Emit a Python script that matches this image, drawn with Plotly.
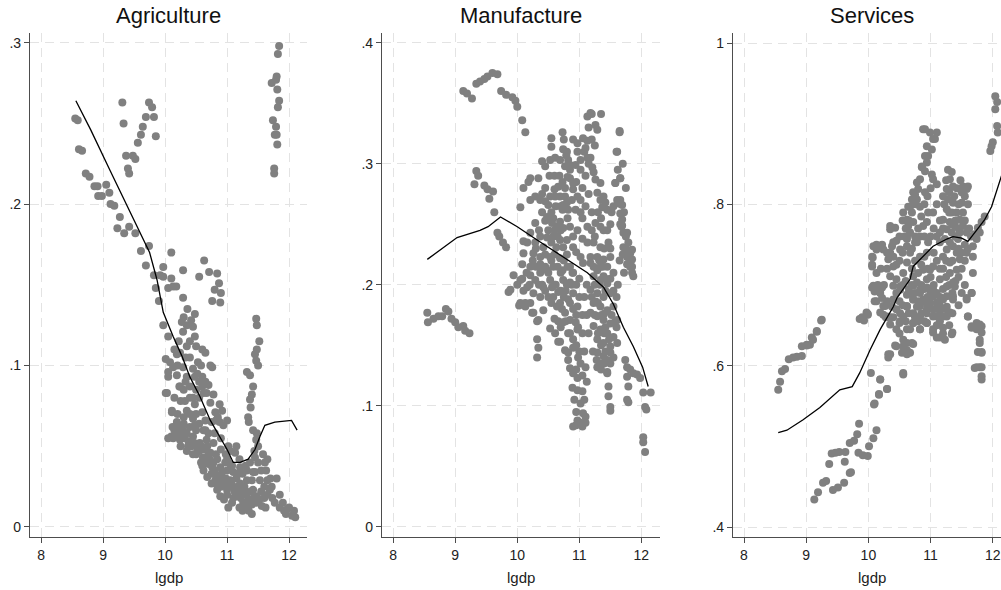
import plotly.graph_objects as go

# ---------------- data ----------------
panel_titles = ["Agriculture", "Manufacture", "Services"]
x_label = "lgdp"
x_ticks = [8, 9, 10, 11, 12]
agri_yticks = [0, 0.1, 0.2, 0.3]
agri_yticktext = ["0", ".1", ".2", ".3"]
manu_yticks = [0, 0.1, 0.2, 0.3, 0.4]
manu_yticktext = ["0", ".1", ".2", ".3", ".4"]
serv_yticks = [0.4, 0.6, 0.8, 1.0]
serv_yticktext = [".4", ".6", ".8", "1"]

agri_points = [
    (8.55,0.253),(8.59,0.252),(8.61,0.234),(8.66,0.233),(8.72,0.219),(8.78,0.217),(8.86,0.211),(8.91,0.211),
    (8.92,0.205),(8.98,0.205),(9.05,0.212),(9.1,0.207),(9.12,0.2),(9.18,0.199),(9.27,0.192),(9.23,0.185),
    (9.34,0.182),(9.42,0.186),(9.52,0.182),(9.61,0.171),(9.74,0.174),(9.69,0.162),(9.97,0.161),(10.1,0.17),
    (9.82,0.156),(9.92,0.156),(9.97,0.155),(10.1,0.154),(10.29,0.159),(9.85,0.148),(10.05,0.148),(10.13,0.149),
    (10.29,0.142),(10.55,0.155),(10.63,0.165),(10.71,0.158),(10.84,0.157),(10.87,0.151),(10.8,0.147),(10.9,0.145),
    (10.76,0.14),(10.89,0.139),(9.9,0.14),(10.18,0.149),(10.36,0.135),(10.48,0.132),(10.27,0.127),(10.45,0.124),
    (9.97,0.125),(10.29,0.121),(10.05,0.118),(10.48,0.118),(10.35,0.112),(10.5,0.112),(10.6,0.11),(10.65,0.108),
    (10.24,0.108),(10.19,0.107),(10.4,0.105),(10.08,0.102),(10.13,0.099),(10.29,0.099),(10.53,0.102),(10.73,0.1),
    (10.76,0.099),(10.05,0.093),(10.19,0.094),(10.35,0.093),(10.45,0.098),(10.48,0.093),(10.55,0.09),(10.24,0.087),
    (10.4,0.087),(10.01,0.104),(10.05,0.096),(10.01,0.083),(10.11,0.072),
    (9.31,0.263),(9.33,0.25),(9.37,0.23),(9.4,0.222),(9.42,0.219),(9.48,0.23),(9.52,0.228),(9.56,0.238),
    (9.61,0.243),(9.64,0.248),(9.69,0.254),(9.74,0.263),(9.79,0.26),(9.82,0.254),(9.85,0.242),
    (11.84,0.298),(11.82,0.293),(11.72,0.275),(11.79,0.277),(11.8,0.279),(11.81,0.271),(11.84,0.264),(11.82,0.26),
    (11.74,0.252),(11.79,0.248),(11.77,0.243),(11.8,0.243),(11.81,0.237),(11.76,0.222),(11.76,0.219),
    (11.47,0.129),(11.48,0.125),(11.52,0.115),(11.48,0.11),(11.45,0.107),(11.5,0.1),(11.47,0.103),(11.32,0.096),
    (11.37,0.094),(11.42,0.087),(11.4,0.082),(11.37,0.079),(11.38,0.074),(11.34,0.068),(11.35,0.065),(11.42,0.06),
    (11.48,0.058),(11.5,0.05),(11.45,0.043),(11.47,0.054),(11.44,0.047),
    (10.03,0.083),(10.23,0.087),(10.32,0.078),(10.11,0.071),(10.48,0.076),(10.67,0.083),(10.73,0.077),(10.81,0.071),
    (10.85,0.068),(10.94,0.063),(10.6,0.071),(10.65,0.066),(10.19,0.065),(10.29,0.06),(10.4,0.062),(10.13,0.055),
    (10.24,0.054),(10.45,0.056),(10.56,0.052),(10.67,0.054),(10.37,0.05),(10.52,0.048),(10.73,0.046),(10.61,0.043),
    (10.84,0.042),(10.76,0.037),(10.89,0.037),(11.0,0.035),(10.68,0.031),(10.81,0.029),(10.94,0.03),(11.05,0.029),
    (11.1,0.025),(11.0,0.023),(11.21,0.027),(11.32,0.029),(11.21,0.021),(11.32,0.021),(11.42,0.023),(11.37,0.017),
    (11.48,0.019),(11.26,0.015),(10.84,0.023),(10.89,0.019),(11.05,0.039),(11.13,0.046),(11.21,0.037),(11.32,0.035),
    (11.37,0.04),(11.45,0.034),(11.53,0.029),(11.61,0.04),(11.63,0.035),(11.65,0.029),(11.69,0.023),(11.73,0.018),
    (11.77,0.015),(11.85,0.012),(11.97,0.011),(12.05,0.007),(12.1,0.006),(11.65,0.042),(10.05,0.055),(10.1,0.056),
    (10.15,0.06),(10.2,0.063),(10.3,0.064),(10.35,0.058),(10.5,0.06),(10.55,0.064),(10.62,0.06),(10.7,0.058),
    (10.78,0.052),(10.9,0.048),(10.98,0.045),(11.05,0.047),(11.1,0.034),(11.15,0.03),(11.25,0.033),(11.28,0.025),
    (11.15,0.019),(11.08,0.015),(11.2,0.012),(11.3,0.012),(11.35,0.01),(11.4,0.014),(10.95,0.017),(11.02,0.012),
    (10.58,0.04),(10.62,0.035),(10.7,0.045),(10.75,0.027),(10.9,0.025),(11.55,0.022),(11.6,0.018),(11.58,0.045),
    (11.5,0.04),(11.4,0.029),(11.2,0.042),(10.4,0.07),(10.45,0.067),(10.5,0.07),(10.35,0.072),(10.55,0.08),
    (10.6,0.087),(10.7,0.088),(10.78,0.082),(10.88,0.076),(10.92,0.072),(11.0,0.066),(10.25,0.078),(10.15,0.08),
    (10.6,0.093),(10.3,0.085),(11.8,0.03),(11.9,0.015),(11.95,0.008),(12.0,0.012),(11.7,0.03),(12.08,0.01),
    (10.12,0.062),(10.18,0.058),(10.22,0.06),(10.27,0.056),(10.32,0.055),(10.38,0.053),(10.42,0.05),(10.47,0.052),
    (10.5,0.045),(10.55,0.047),(10.58,0.05),(10.63,0.048),(10.65,0.041),(10.7,0.039),(10.72,0.042),(10.78,0.04),
    (10.8,0.035),(10.83,0.032),(10.87,0.03),(10.92,0.034),(10.95,0.027),(10.98,0.03),(11.03,0.026),(11.07,0.028),
    (11.12,0.022),(11.17,0.025),(11.22,0.018),(11.24,0.024),(11.28,0.02),(11.33,0.016),(11.38,0.022),(11.43,0.018),
    (11.47,0.015),(11.52,0.017),(11.56,0.013),(11.6,0.025),(11.62,0.012),(10.45,0.045),(10.35,0.047),(10.25,0.05),
    (10.6,0.038),(10.75,0.033),(10.85,0.026),(11.0,0.02),(11.1,0.018),(11.25,0.01),(11.4,0.008),(10.68,0.05),
    (10.82,0.045),(10.97,0.04),(11.08,0.038),(11.18,0.033),(11.3,0.038),(11.42,0.034),(11.55,0.035),(11.65,0.02),
    (11.72,0.025),(11.85,0.02),(11.92,0.01),(10.2,0.07),(10.3,0.068),(10.48,0.063),(10.65,0.06),(10.8,0.058),
    (10.9,0.055),(11.02,0.05),(11.15,0.05),(11.0,0.042),(10.88,0.065),(10.75,0.065),(10.5,0.085),(10.45,0.08),
    (10.4,0.08),(10.33,0.09),(10.2,0.1),(10.15,0.11),(10.22,0.115),(10.33,0.105),(10.4,0.115),(10.42,0.128),
    (10.35,0.125),(10.3,0.13),(10.52,0.095),(10.58,0.1),(10.62,0.083),(10.65,0.09),(10.82,0.066),
]
agri_fit_x = [8.56,8.8,9.11,9.37,9.65,9.75,9.87,9.97,10.13,10.27,10.4,10.56,10.73,10.85,11.0,11.1,11.21,11.34,11.45,11.53,11.61,11.77,11.97,12.04,12.13]
agri_fit_y = [0.264,0.246,0.221,0.2,0.178,0.17,0.153,0.133,0.118,0.106,0.093,0.081,0.066,0.058,0.048,0.04,0.04,0.042,0.048,0.056,0.063,0.065,0.066,0.066,0.06]

manu_points = [
    (9.13,0.36),(9.19,0.358),(9.27,0.354),(9.34,0.366),(9.4,0.368),(9.47,0.37),(9.52,0.372),(9.6,0.375),
    (9.68,0.374),(9.74,0.36),(9.82,0.357),(9.92,0.355),(9.97,0.352),(10.0,0.347),(10.08,0.336),(10.13,0.326),
    (9.34,0.294),(9.37,0.29),(9.31,0.283),(9.47,0.282),(9.52,0.279),(9.61,0.277),(9.55,0.271),(9.63,0.26),
    (9.68,0.243),(9.71,0.24),(9.77,0.235),(9.82,0.231),
    (8.55,0.177),(8.56,0.169),(8.65,0.172),(8.73,0.174),(8.79,0.174),(8.85,0.18),(8.89,0.178),(8.94,0.172),
    (9.0,0.169),(9.05,0.165),(9.13,0.166),(9.16,0.162),(9.23,0.16),
    (11.18,0.342),(11.2,0.341),(11.35,0.341),(11.13,0.339),(11.26,0.332),(11.29,0.328),(11.65,0.326),(11.61,0.31),
    (10.73,0.326),(10.55,0.321),(10.55,0.314),(10.9,0.32),(10.97,0.317),(11.06,0.321),(11.13,0.319),(11.1,0.313),
    (10.97,0.31),(11.13,0.305),(11.18,0.305),(11.02,0.303),(10.74,0.312),(10.79,0.307),(10.82,0.303),(10.69,0.303),
    (10.61,0.305),(10.53,0.303),(10.4,0.302),(10.45,0.298),(10.77,0.298),(10.85,0.299),(10.94,0.299),(11.02,0.295),
    (11.21,0.297),(11.23,0.293),(10.81,0.289),(10.85,0.288),(10.73,0.285),(10.9,0.284),(10.66,0.281),(10.77,0.28),
    (10.9,0.279),(10.21,0.288),(10.18,0.285),(10.34,0.288),(10.1,0.28),(11.26,0.287),(11.34,0.284),(11.66,0.288),
    (11.58,0.284),(10.6,0.279),(10.61,0.273),(10.53,0.273),(10.69,0.273),(10.77,0.273),(10.97,0.273),(11.02,0.27),
    (10.29,0.273),(10.37,0.27),(10.45,0.269),(10.21,0.27),(10.5,0.266),(10.05,0.264),(10.74,0.266),(10.73,0.262),
    (10.82,0.262),(10.94,0.262),(11.02,0.26),(11.29,0.276),(11.34,0.27),(11.39,0.273),(11.42,0.268),(11.45,0.262),
    (11.37,0.264),(11.66,0.27),(11.69,0.266),
    (10.48,0.256),(10.58,0.255),(10.45,0.253),(10.69,0.252),(10.81,0.255),(10.56,0.251),(10.29,0.251),(10.64,0.248),
    (10.74,0.247),(10.85,0.248),(11.13,0.248),(10.97,0.245),(11.26,0.251),(11.34,0.248),(11.39,0.245),(11.66,0.25),
    (11.69,0.249),(11.77,0.243),(10.37,0.24),(10.48,0.239),(10.58,0.24),(10.69,0.237),(10.9,0.24),(10.21,0.243),
    (10.16,0.235),(10.1,0.236),(10.29,0.235),(10.42,0.231),(10.74,0.231),(10.9,0.231),(11.13,0.235),(11.23,0.235),
    (11.34,0.231),(11.47,0.235),(11.79,0.235),(11.85,0.229),(11.77,0.229),(10.1,0.226),(10.26,0.226),(10.37,0.223),
    (10.53,0.223),(10.69,0.222),(11.02,0.223),(11.18,0.223),(11.29,0.223),(11.39,0.221),(11.5,0.223),(11.77,0.223),
    (11.82,0.221),(10.08,0.217),(10.21,0.215),(10.37,0.217),(10.58,0.215),(10.81,0.215),(11.06,0.218),(11.23,0.215),
    (11.34,0.215),(11.77,0.217),(11.85,0.215),(10.95,0.227),(10.63,0.231),(10.8,0.237),(11.05,0.238),
    (9.94,0.208),(9.89,0.196),(10.05,0.204),(10.21,0.208),(10.16,0.198),(10.29,0.204),(10.37,0.21),(10.48,0.212),
    (10.53,0.204),(10.42,0.198),(10.26,0.193),(10.37,0.19),(10.05,0.185),(10.21,0.185),(10.13,0.182),(10.42,0.179),
    (10.26,0.177),(10.34,0.171),(10.56,0.198),(10.58,0.19),(10.66,0.194),(10.69,0.185),(10.73,0.212),(10.74,0.204),
    (10.77,0.177),(10.82,0.188),(10.85,0.202),(10.89,0.21),(10.9,0.193),(10.97,0.182),(10.85,0.171),(10.94,0.169),
    (10.74,0.169),(10.82,0.16),(10.97,0.163),(10.53,0.164),(10.61,0.16),(10.69,0.153),(10.32,0.155),(10.34,0.148),
    (10.32,0.14),(10.77,0.146),(10.82,0.144),(10.82,0.138),(10.9,0.148),(10.98,0.14),(11.02,0.135),(11.1,0.132),
    (10.85,0.131),(10.9,0.127),(10.97,0.123),(10.89,0.115),(10.97,0.113),(11.05,0.112),(11.02,0.102),(11.06,0.094),
    (11.1,0.091),(11.02,0.086),(10.9,0.083),(10.95,0.084),(11.1,0.086),(9.86,0.194),(10.03,0.183),(10.13,0.185),
    (10.24,0.177),(10.32,0.17),(10.66,0.153),(10.6,0.2),(10.64,0.182),(10.78,0.195),(10.6,0.172),(10.7,0.165),
    (11.18,0.218),(11.29,0.212),(11.39,0.207),(11.23,0.207),(11.34,0.204),(11.45,0.201),(11.18,0.196),(11.29,0.193),
    (11.39,0.19),(11.5,0.193),(11.23,0.185),(11.34,0.182),(11.45,0.179),(11.55,0.182),(11.18,0.177),(11.29,0.174),
    (11.39,0.171),(11.5,0.168),(11.61,0.171),(11.23,0.166),(11.34,0.163),(11.45,0.16),(11.55,0.157),(11.29,0.155),
    (11.39,0.152),(11.5,0.149),(11.61,0.152),(11.29,0.144),(11.39,0.141),(11.5,0.144),(11.34,0.135),(11.45,0.138),
    (11.29,0.132),(11.45,0.128),(11.45,0.127),(11.47,0.116),(11.47,0.108),(11.5,0.099),(11.5,0.096),(11.4,0.16),
    (11.33,0.2),(11.42,0.195),(11.27,0.186),(11.4,0.176),
    (11.74,0.138),(11.77,0.132),(11.82,0.13),(11.87,0.127),(11.93,0.126),(11.98,0.123),(11.77,0.124),(11.79,0.116),
    (11.77,0.105),(11.79,0.103),(12.03,0.111),(12.15,0.111),(12.06,0.099),(12.08,0.097),(12.03,0.074),(12.03,0.07),
    (12.06,0.062),(11.71,0.231),(11.82,0.226),(11.85,0.221),(11.82,0.215),(11.85,0.21),(11.87,0.207),(11.71,0.243),
    (11.68,0.248),(11.69,0.254),(11.66,0.259),(11.65,0.267),(11.61,0.27),(11.66,0.288),(11.58,0.284),(11.6,0.31),
    (11.65,0.327),
    (10.45,0.215),(10.5,0.21),(10.55,0.22),(10.6,0.225),(10.65,0.215),(10.7,0.21),(10.75,0.22),(10.8,0.225),
    (10.85,0.215),(10.9,0.21),(10.95,0.2),(11.0,0.205),(10.4,0.2),(10.45,0.195),(10.5,0.19),(10.55,0.185),
    (10.62,0.2),(10.7,0.195),(10.75,0.19),(10.8,0.2),(10.85,0.185),(10.9,0.18),(10.95,0.175),(11.0,0.19),
    (10.72,0.18),(10.78,0.17),(10.66,0.17),(10.85,0.16),(10.9,0.155),(10.95,0.15),(11.05,0.16),(11.0,0.145),
    (10.88,0.2),(10.6,0.245),(10.65,0.24),(10.7,0.245),(10.55,0.235),(10.5,0.245),(10.45,0.225),(10.4,0.215),
    (10.35,0.2),(10.3,0.215),(10.25,0.22),(10.2,0.2),(10.15,0.21),(10.1,0.195),(10.08,0.205),(10.0,0.2),
    (10.3,0.23),(10.35,0.245),(10.4,0.26),(10.55,0.26),(10.62,0.265),(10.7,0.265),(10.8,0.268),(10.88,0.27),
    (10.95,0.285),(10.85,0.295),(10.8,0.31),(10.75,0.32),(10.68,0.29),(10.6,0.29),(10.52,0.29),(10.45,0.28),
    (10.4,0.275),(11.05,0.28),(11.1,0.29),(11.15,0.3),(11.08,0.31),(11.2,0.32),(11.25,0.315),(11.15,0.33),
    (11.05,0.255),(11.1,0.265),(11.15,0.275),(11.2,0.26),(11.25,0.24),(11.2,0.245),(11.3,0.26),(11.35,0.255),
    (11.4,0.23),(11.45,0.215),(11.45,0.245),(11.5,0.205),(11.55,0.21),(11.5,0.23),(11.55,0.195),(11.6,0.19),
    (11.6,0.165),(11.55,0.14),(11.5,0.135),(11.42,0.145),(11.35,0.15),(11.3,0.16),(11.25,0.175),(11.2,0.19),
    (11.25,0.2),(11.3,0.185),(11.36,0.175),(11.42,0.165),(11.48,0.155),(11.52,0.175),(11.58,0.17),(11.62,0.2),
    (11.65,0.22),(11.7,0.225),(11.72,0.21),(11.75,0.24),(11.72,0.26),(11.75,0.28),(11.7,0.3),(11.62,0.295),
    (11.55,0.265),(11.5,0.25),(11.52,0.26),(11.22,0.145),(11.28,0.138),(11.35,0.13),(11.4,0.135),(11.32,0.22),
    (11.38,0.215),(11.42,0.205),(11.12,0.2),(11.08,0.19),(11.12,0.175),(11.15,0.16),(11.05,0.175),(10.98,0.165),
    (11.08,0.145),(11.12,0.12),(11.05,0.125),(10.95,0.13),(10.92,0.105),(10.95,0.095),(11.08,0.105),(10.97,0.088),
    (11.05,0.083),
]
manu_fit_x = [8.55,8.81,9.03,9.4,9.53,9.73,10.0,10.32,10.74,11.13,11.39,11.55,11.71,11.87,12.02,12.11]
manu_fit_y = [0.221,0.231,0.239,0.245,0.248,0.256,0.248,0.237,0.223,0.21,0.198,0.184,0.165,0.149,0.132,0.116]

serv_points = [
    (8.55,0.57),(8.58,0.58),(8.61,0.593),(8.66,0.596),(8.72,0.608),(8.79,0.61),(8.85,0.611),(8.93,0.612),
    (8.93,0.624),(9.01,0.625),(9.06,0.626),(9.11,0.632),(9.17,0.642),(9.24,0.656),
    (9.13,0.434),(9.19,0.443),(9.27,0.455),(9.32,0.457),(9.43,0.446),(9.51,0.449),(9.61,0.455),(9.37,0.478),
    (9.41,0.491),(9.47,0.492),(9.53,0.493),(9.62,0.481),(9.63,0.493),(9.7,0.467),(9.72,0.468),(9.7,0.504),
    (9.77,0.507),(9.82,0.515),(9.85,0.528),(9.84,0.492),(9.91,0.489),(9.99,0.488),(10.01,0.5),(10.08,0.51),
    (10.13,0.52),(10.09,0.552),(10.17,0.564),(10.04,0.591),(10.19,0.583),(10.3,0.571),(10.56,0.589),
    (9.86,0.658),(9.93,0.656),(9.99,0.664),(9.97,0.666),(10.32,0.61),(10.35,0.614),(10.43,0.625),(10.54,0.616),
    (10.62,0.619),(10.7,0.628),(10.56,0.632),(10.07,0.697),(10.12,0.695),(10.22,0.697),(10.13,0.68),(10.19,0.666),
    (10.3,0.661),(10.35,0.651),(10.38,0.673),(10.5,0.653),(10.62,0.645),(10.72,0.653),(10.83,0.645),(10.94,0.653),
    (11.04,0.645),(11.15,0.635),(11.23,0.632),(11.35,0.641),(11.2,0.661),(11.31,0.666),(11.26,0.673),(11.36,0.686),
    (11.39,0.698),(11.58,0.684),(11.66,0.69),(11.6,0.661),(11.66,0.649),(11.74,0.645),(11.79,0.651),(11.82,0.641),
    (11.79,0.628),(11.76,0.617),(11.82,0.617),(11.71,0.597),(11.79,0.598),(11.82,0.587),(11.82,0.583),
    (10.08,0.699),(10.19,0.69),(10.4,0.699),(10.51,0.694),(10.62,0.688),(10.72,0.699),(10.83,0.69),(10.94,0.697),
    (11.04,0.686),(10.72,0.682),(10.62,0.674),(10.83,0.674),(10.94,0.665),(11.04,0.67),(11.15,0.674),(10.4,0.682),
    (10.51,0.665),(10.24,0.674),(10.88,0.68),(10.99,0.678),(11.1,0.661),(10.72,0.665),
    (10.08,0.748),(10.06,0.735),(10.06,0.725),(10.13,0.715),(10.06,0.697),(10.1,0.692),(10.19,0.694),(10.1,0.68),
    (10.22,0.684),(10.24,0.663),(10.27,0.674),(9.9,0.66),(9.99,0.663),(10.32,0.732),(10.4,0.723),(10.35,0.711),
    (10.45,0.707),(10.51,0.698),(10.56,0.715),(10.62,0.728),(10.67,0.74),(10.51,0.744),(10.38,0.748),(10.24,0.744),
    (10.62,0.748),(10.72,0.711),(10.78,0.703),(10.83,0.694),(10.67,0.69),(10.72,0.682),(10.62,0.673),(10.56,0.661),
    (10.51,0.655),(10.45,0.645),(10.78,0.673),(10.88,0.682),(10.94,0.67),(10.83,0.661),(10.72,0.653),(10.67,0.645),
    (10.83,0.645),(10.94,0.653),(11.04,0.661),(11.15,0.67),(11.1,0.678),(10.99,0.678),(11.04,0.694),(10.94,0.707),
    (10.99,0.719),(10.88,0.719),(10.83,0.735),(10.94,0.74),(10.78,0.753),(11.04,0.723),(11.15,0.707),(11.26,0.698),
    (11.26,0.686),(11.2,0.682),(11.26,0.661),(11.15,0.655),(11.2,0.647),(11.36,0.703),(11.31,0.715),(11.42,0.719),
    (11.47,0.732),(11.42,0.74),(11.36,0.748),(11.26,0.744),(11.2,0.735),(11.31,0.728),(11.36,0.682),(11.04,0.641),
    (11.1,0.635),(11.34,0.639),(11.58,0.74),(11.68,0.748),(11.68,0.735),(11.68,0.715),(11.66,0.69),(11.58,0.682),
    (11.6,0.661),(11.66,0.647),(11.74,0.653),(11.82,0.649),(11.79,0.632),(11.82,0.616),(11.74,0.598),(11.82,0.598),
    (10.56,0.624),(10.67,0.616),(10.62,0.628),(10.45,0.624),(10.32,0.614),(10.62,0.614),(10.72,0.627),(10.56,0.591),
    (10.19,0.583),(10.3,0.571),(10.17,0.565),(10.1,0.553),(9.25,0.657),(9.17,0.643),(9.09,0.635),(9.01,0.626),
    (10.91,0.893),(10.99,0.889),(11.1,0.889),(11.04,0.881),(11.02,0.868),(10.96,0.86),(10.94,0.852),(10.86,0.846),
    (10.91,0.841),(11.02,0.837),(11.04,0.831),(11.1,0.825),(10.83,0.831),(10.8,0.819),(10.75,0.812),(10.7,0.806),
    (10.64,0.797),(10.56,0.79),(10.62,0.781),(10.78,0.806),(10.83,0.797),(10.91,0.815),(10.96,0.79),(10.94,0.778),
    (10.88,0.773),(10.72,0.778),(10.67,0.765),(10.62,0.757),(10.35,0.773),(10.43,0.771),(10.22,0.75),(10.13,0.75),
    (10.83,0.76),(10.75,0.753),(10.96,0.753),
    (11.28,0.843),(11.34,0.84),(11.31,0.831),(11.36,0.822),(11.26,0.819),(11.2,0.81),(11.28,0.806),(11.36,0.802),
    (11.26,0.794),(11.34,0.79),(11.2,0.781),(11.31,0.778),(11.39,0.773),(11.26,0.769),(11.34,0.765),(11.23,0.757),
    (11.31,0.753),(11.15,0.765),(11.15,0.753),(11.52,0.822),(11.58,0.819),(11.55,0.81),(11.5,0.802),(11.52,0.79),
    (11.47,0.781),(11.52,0.773),(11.47,0.765),(11.44,0.757),(11.6,0.822),(11.42,0.79),(11.45,0.8),
    (12.04,0.934),(12.07,0.927),(12.04,0.918),(12.07,0.897),(12.08,0.889),(12.0,0.877),(11.96,0.866),(11.98,0.872),
    (11.87,0.785),(11.82,0.778),(11.76,0.771),(11.79,0.765),(11.74,0.757),(11.71,0.763),
    (10.07,0.734),(10.06,0.723),(10.13,0.744),(10.3,0.74),(10.35,0.769),(10.4,0.753),(10.62,0.76),(10.64,0.773),
    (10.67,0.797),(10.72,0.815),(10.78,0.827),(10.86,0.847),(10.91,0.86),(10.94,0.872),(10.88,0.893),(11.07,0.881),
    (11.04,0.79),(11.1,0.8),(11.15,0.78),
    (10.45,0.69),(10.5,0.68),(10.55,0.7),(10.6,0.705),(10.65,0.695),(10.7,0.7),(10.75,0.69),(10.8,0.68),
    (10.85,0.7),(10.9,0.695),(10.95,0.685),(11.0,0.69),(11.05,0.7),(11.1,0.69),(11.15,0.685),(11.2,0.695),
    (11.25,0.71),(11.3,0.7),(11.35,0.69),(11.4,0.705),(11.45,0.71),(11.5,0.72),(11.55,0.73),(11.6,0.745),
    (11.65,0.76),(11.55,0.75),(11.5,0.74),(11.45,0.745),(10.45,0.67),(10.55,0.675),(10.65,0.665),(10.75,0.66),
    (10.85,0.665),(10.95,0.675),(11.05,0.67),(11.15,0.665),(11.25,0.67),(11.35,0.665),(11.45,0.675),(11.5,0.69),
    (11.55,0.7),(11.3,0.65),(11.2,0.64),(11.1,0.65),(10.9,0.655),(10.8,0.655),(10.6,0.655),(10.5,0.64),
    (10.4,0.66),(10.3,0.68),(10.25,0.7),(10.3,0.72),(10.35,0.74),(10.4,0.735),(10.45,0.725),(10.5,0.73),
    (10.55,0.74),(10.58,0.76),(10.5,0.76),(10.45,0.755),(10.7,0.72),(10.75,0.73),(10.8,0.715),(10.85,0.725),
    (10.9,0.735),(10.95,0.72),(11.0,0.71),(11.05,0.74),(11.1,0.73),(11.15,0.72),(11.2,0.72),(11.25,0.73),
    (11.35,0.73),(11.4,0.76),(11.45,0.77),(11.4,0.78),(11.35,0.775),(11.3,0.79),(11.22,0.8),(11.25,0.83),
    (11.3,0.815),(11.38,0.81),(11.42,0.82),(11.48,0.83),(11.5,0.815),(11.55,0.78),(11.6,0.8),(11.62,0.77),
    (11.58,0.765),(10.7,0.745),(10.75,0.76),(10.8,0.77),(10.85,0.785),(10.9,0.8),(10.95,0.81),(11.0,0.82),
    (10.7,0.79),(10.75,0.8),(10.65,0.78),(10.6,0.77),(10.55,0.78),(10.9,0.76),(11.0,0.76),(11.05,0.77),
    (11.1,0.76),(11.2,0.77),(10.2,0.72),(10.15,0.7),(10.28,0.66),(10.35,0.66),
]
serv_fit_x = [8.55,8.69,8.95,9.22,9.54,9.74,9.86,10.03,10.19,10.4,10.46,10.67,10.72,11.04,11.26,11.36,11.5,11.6,11.71,11.87,11.98,12.07,12.13,12.16]
serv_fit_y = [0.517,0.52,0.533,0.548,0.57,0.574,0.591,0.62,0.645,0.673,0.684,0.707,0.723,0.748,0.757,0.76,0.758,0.754,0.765,0.781,0.797,0.818,0.831,0.84]

# ---------------- figure ----------------
DOT = "rgb(128,128,128)"
FONT = "Liberation Sans, Arial, Helvetica, sans-serif"
AXC = "#4d4d4d"
GRIDC = "#e3e3e3"

panels = [
    (agri_points, agri_fit_x, agri_fit_y, agri_yticks, agri_yticktext, [-0.0062, 0.306], [7.82, 12.29], [0.0, 0.2853]),
    (manu_points, manu_fit_x, manu_fit_y, manu_yticks, manu_yticktext, [-0.0083, 0.408], [7.82, 12.30], [0.3625, 0.6488]),
    (serv_points, serv_fit_x, serv_fit_y, serv_yticks, serv_yticktext, [0.3876, 1.0124], [7.823, 12.132], [0.724, 1.0]),
]

fig = go.Figure()
layout = dict(
    width=1001, height=590,
    margin=dict(l=30, r=0, t=33, b=53),
    paper_bgcolor="white", plot_bgcolor="white",
    showlegend=False, template="none",
    font=dict(family=FONT, color="#222222"),
)
annotations = []
for i, (pts, fx, fy, yt, ytt, yr, xr, dom) in enumerate(panels):
    n = "" if i == 0 else str(i + 1)
    xs = [p[0] for p in pts]
    ys = [p[1] for p in pts]
    fig.add_trace(go.Scatter(x=xs, y=ys, mode="markers", xaxis="x" + n, yaxis="y" + n,
                             marker=dict(color=DOT, size=8, line=dict(width=0)), cliponaxis=True))
    fig.add_trace(go.Scatter(x=fx, y=fy, mode="lines", xaxis="x" + n, yaxis="y" + n,
                             line=dict(color="black", width=1.3), cliponaxis=True))
    layout["xaxis" + n] = dict(
        domain=dom, range=xr, anchor="y" + n, tickvals=x_ticks, ticktext=[str(v) for v in x_ticks],
        showline=True, linecolor=AXC, linewidth=1.2, ticks="outside", ticklen=5, tickcolor=AXC,
        showgrid=True, gridcolor=GRIDC, griddash="9px,6px", gridwidth=1, zeroline=False,
        tickfont=dict(size=14, family=FONT, color="#222222"), automargin=False, mirror=False,
    )
    layout["yaxis" + n] = dict(
        domain=[0, 1], range=yr, anchor="x" + n, tickvals=yt, ticktext=ytt,
        showline=True, linecolor=AXC, linewidth=1.2, ticks="outside", ticklen=5, tickcolor=AXC,
        showgrid=True, gridcolor=GRIDC, griddash="9px,6px", gridwidth=1, zeroline=False,
        tickfont=dict(size=14, family=FONT, color="#222222"), automargin=False, mirror=False,
    )
    cx = (dom[0] + dom[1]) / 2
    if i == 2:
        cx = dom[0] + (dom[1] - dom[0]) * 0.5 * (1011 - 733) / (1001 - 733)
    annotations.append(dict(text=panel_titles[i], x=cx, y=1, xref="paper", yref="paper",
                            xanchor="center", yanchor="middle", yshift=18, showarrow=False,
                            font=dict(size=22, family=FONT, color="#111111")))
    annotations.append(dict(text=x_label, x=cx, y=0, xref="paper", yref="paper",
                            xanchor="center", yanchor="middle", yshift=-40, showarrow=False,
                            font=dict(size=15, family=FONT, color="#222222")))
layout["annotations"] = annotations
fig.update_layout(**layout)

fig.write_html("out.html", config={"displayModeBar": False},
               post_script="document.body.style.margin='0';document.body.style.overflow='hidden';")
